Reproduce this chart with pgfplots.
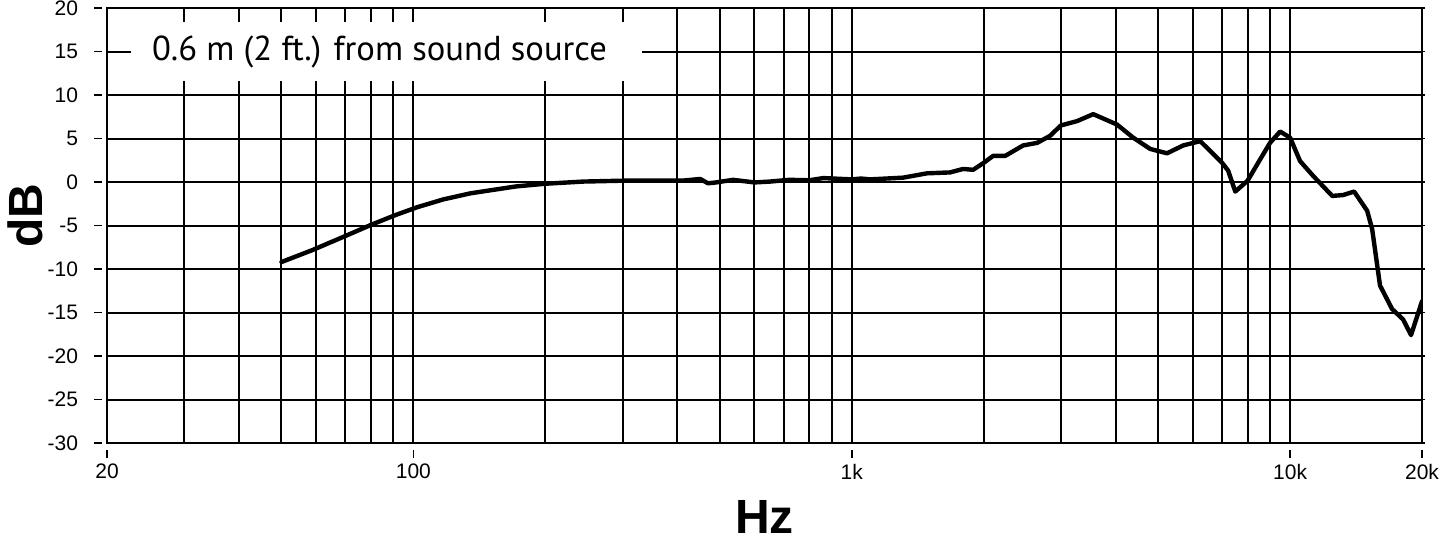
\documentclass[border=0pt]{standalone}
\usepackage{fontspec}
\setmainfont{Liberation Sans}
\newfontfamily\myriad{PT Sans}
\usepackage{pgfplots}
\pgfplotsset{compat=1.18}

\begin{document}
\begin{tikzpicture}
\useasboundingbox (-53.5pt,-49pt) rectangle (669pt,221.5pt);
\begin{axis}[
  scale only axis,
  width=657.5pt, height=217.5pt,
  at={(0,0)}, anchor=south west,
  xmode=log,
  xmin=20, xmax=20000,
  ymin=-30, ymax=20,
  xtick={20,100,1000,10000,20000},
  xticklabels={20,100,1k,10k,20k},
  minor xtick={30,40,50,60,70,80,90,200,300,400,500,600,700,800,900,
               2000,3000,4000,5000,6000,7000,8000,9000},
  ytick={-30,-25,-20,-15,-10,-5,0,5,10,15,20},
  yticklabels={-30,-25,-20,-15,-10,-5,0,5,10,15,20},
  grid=both,
  major grid style={line width=1pt, black},
  minor grid style={line width=1pt, black},
  axis line style={line width=1pt, black},
  tick align=outside,
  major tick length=4pt,
  minor tick length=0pt,
  xtick style={line width=0.9pt, black, yshift=-3.5pt},
  ytick style={line width=0.9pt, black, xshift=-2.5pt},
  xticklabel style={font=\fontsize{10.5}{12}\selectfont, yshift=-3pt},
  yticklabel style={font=\fontsize{10.5}{12}\selectfont, xshift=-7pt},
  xlabel={Hz},
  ylabel={dB},
  xlabel style={font=\fontsize{24}{24}\selectfont\bfseries, inner sep=0pt,
    at={(axis description cs:0.5,0)}, anchor=center, yshift=-37pt},
  ylabel style={font=\fontsize{24}{24}\selectfont\bfseries,
    at={(axis description cs:-0.0624,0.522)}, anchor=center},
]
\addplot[black, line width=2.2pt, line join=round, line cap=round] coordinates {
  (50,-9.2) (59,-7.8) (70,-6.2) (80.7,-4.85) (91,-3.8) (102,-2.9)
  (117,-2.0) (135,-1.3) (150,-0.95) (172,-0.5) (200,-0.2) (244,0.05)
  (300,0.15) (410,0.15) (451,0.35) (470,-0.15) (490,-0.05) (536,0.25)
  (600,-0.05) (651,0.05) (720,0.25) (800,0.2) (861,0.45) (1000,0.3)
  (1050,0.4) (1100,0.3) (1310,0.5) (1486,1.0) (1676,1.1) (1795,1.5)
  (1892,1.4) (2000,2.2) (2101,3.0) (2239,3.0) (2460,4.2) (2649,4.5)
  (2833,5.3) (3000,6.5) (3267,7.0) (3556,7.8) (4030,6.6) (4385,5.1)
  (4797,3.8) (5239,3.3) (5702,4.2) (6237,4.7) (7000,2.2) (7224,1.3)
  (7500,-1.1) (8000,0.15) (8545,2.6) (9000,4.5) (9490,5.8) (10000,5.1)
  (10540,2.4) (11290,0.7) (12480,-1.6) (13210,-1.5) (14000,-1.1)
  (14990,-3.3) (15390,-5.4) (16040,-11.9) (17090,-14.6) (18110,-15.8)
  (18880,-17.6) (20000,-13.7)
};
% white box behind the caption, it cuts the grid lines
\node[fill=white, inner sep=0pt, minimum width=255.5pt, minimum height=29.5pt]
  at (rel axis cs:0.2125,0.9) {};
\node[inner sep=0pt, xshift=-3.5pt, font=\myriad\fontsize{17.3}{17.3}\selectfont]
  at (rel axis cs:0.2125,0.9) {0.6 m (2 ft.) from sound source};
\end{axis}
\end{tikzpicture}
\end{document}
